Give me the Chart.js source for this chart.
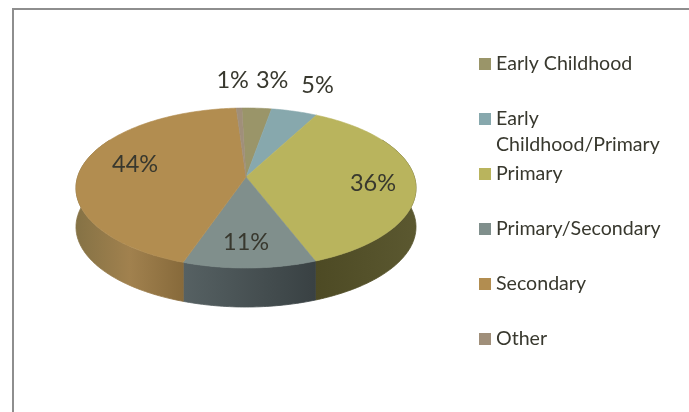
<!DOCTYPE html>
<html>
<head>
<meta charset="utf-8">
<title>Pie chart</title>
<script src="https://cdn.jsdelivr.net/npm/chart.js@4"></script>
<style>
    html, body { margin: 0; background: #fff; overflow: hidden; }
    #wrap { position: relative; width: 689px; height: 412px; }
    #frame { position: absolute; left: 12px; top: 8px; right: 0; bottom: 0;
             border-top: 2px solid #8e8e8e; border-left: 2px solid #8e8e8e; }
    canvas { position: absolute; left: 0; top: 0; filter: blur(0.35px); }
</style>
</head>
<body>
<div id="wrap">
    <div id="frame"></div>
    <canvas id="pie" width="689" height="412"></canvas>
</div>
<script>
// Chart data (labels are these rounded)
const categories = ['Early Childhood', 'Early Childhood/Primary', 'Primary', 'Primary/Secondary', 'Secondary', 'Other'];
const shares = [3.2, 5, 36.4, 11.1, 43.7, 0.6];

// Colours
const topColors = ['#9a9569', '#87a8ad', '#b9b45d', '#808f8c', '#b28d50', '#a08f7a'];
const wallColors = [
    ['#6e6a48', '#6e6a48'],
    ['#5f7a7e', '#5f7a7e'],
    ['#4d4a24', '#5b5830'],
    ['#566163', '#394143'],
    ['#857245', '#a1814e', '#876a3b'],
    ['#75685a', '#75685a']
];
const TEXT_COLOR = '#38382e';
const FONT = 'Lato, "Open Sans", sans-serif';

// Where each percent label sits: fraction of the radius, and nudge off the slice middle (degrees)
const labelRadius = [1.5, 1.485, 0.75, 0.744, 0.695, 1.49];
const labelNudge = [3, 1, 3, 1, 6.5, -1];

// Tilted disc, with perspective
const APEX_X = 246, APEX_Y = 177;
const DISC_A = 168.4, DISC_B = 78.5, DISC_E = 0.1375;
const WALL_DEPTH = 39;

function project(deg, r = 1) {
    const t = deg * Math.PI / 180;
    const q = r * Math.cos(t), p = r * Math.sin(t);
    const w = 1 + DISC_E * q;
    return { x: APEX_X + DISC_A * p / w, y: APEX_Y - DISC_B * q / w };
}

// Chart.js angles start at 3 o'clock, the disc ones at 12 o'clock
const toDeg = rad => rad * 180 / Math.PI + 90;

function rimPoints(from, to) {
    const pts = [];
    const steps = Math.max(2, Math.ceil(Math.abs(to - from)));
    for (let i = 0; i <= steps; i++) pts.push(project(from + (to - from) * i / steps));
    return pts;
}

function drawWall(ctx, from, to, stops) {
    const a = Math.max(from, 60), b = Math.min(to, 300);
    if (b <= a) return;
    const pts = rimPoints(a, b);
    const xs = pts.map(p => p.x);
    const g = ctx.createLinearGradient(Math.min(...xs), 0, Math.max(...xs), 0);
    stops.forEach((c, i) => g.addColorStop(i / (stops.length - 1), c));
    ctx.beginPath();
    pts.forEach((p, i) => i ? ctx.lineTo(p.x, p.y) : ctx.moveTo(p.x, p.y));
    pts.slice().reverse().forEach(p => ctx.lineTo(p.x, p.y + WALL_DEPTH));
    ctx.closePath();
    ctx.fillStyle = g;
    ctx.strokeStyle = g;
    ctx.lineWidth = 0.8; // hides the seam between two walls
    ctx.fill();
    ctx.stroke();
}

function drawTop(ctx, from, to, color) {
    ctx.beginPath();
    ctx.moveTo(APEX_X, APEX_Y);
    rimPoints(from, to).forEach(p => ctx.lineTo(p.x, p.y));
    ctx.closePath();
    ctx.fillStyle = color;
    ctx.strokeStyle = color;
    ctx.lineWidth = 0.6;
    ctx.fill();
    ctx.stroke();
}

function wrapWords(ctx, text, maxWidth) {
    const lines = [];
    let line = '';
    text.split(' ').forEach(word => {
        const next = line ? line + ' ' + word : word;
        if (line && ctx.measureText(next).width > maxWidth) {
            lines.push(line);
            line = word;
        } else {
            line = next;
        }
    });
    lines.push(line);
    return lines;
}

// Draws the arcs of the pie controller as a 3D disc
const discPlugin = {
    id: 'disc',
    beforeDatasetDraw(chart) {
        const ctx = chart.ctx;
        const arcs = chart.getDatasetMeta(0).data;
        const spans = arcs.map(arc => [toDeg(arc.startAngle), toDeg(arc.endAngle)]);

        spans.forEach(([a, b], i) => drawWall(ctx, a, b, wallColors[i]));
        spans.forEach(([a, b], i) => drawTop(ctx, a, b, topColors[i]));

        ctx.save();
        ctx.font = '23.5px ' + FONT;
        ctx.fillStyle = TEXT_COLOR;
        ctx.textAlign = 'center';
        ctx.textBaseline = 'middle';
        spans.forEach(([a, b], i) => {
            const p = project((a + b) / 2 + labelNudge[i], labelRadius[i]);
            ctx.fillText(Math.round(shares[i]) + '%', p.x, p.y);
        });
        ctx.restore();
        return false;
    }
};

// Legend with word wrap, the built-in one can't wrap
const legendPlugin = {
    id: 'sideLegend',
    afterDraw(chart) {
        const ctx = chart.ctx;
        ctx.save();
        ctx.font = '19.6px ' + FONT;
        ctx.textBaseline = 'middle';
        categories.forEach((name, i) => {
            const y = 64 + i * 55;
            ctx.fillStyle = topColors[i];
            ctx.fillRect(479, y - 6, 12, 12);
            ctx.fillStyle = TEXT_COLOR;
            wrapWords(ctx, name, 172).forEach((line, n) => {
                ctx.fillText(line, 496, y + n * 26);
            });
        });
        ctx.restore();
    }
};

new Chart(document.getElementById('pie'), {
    type: 'pie',
    data: {
        labels: categories,
        datasets: [{
            data: shares,
            backgroundColor: topColors,
            borderWidth: 0
        }]
    },
    options: {
        responsive: false,
        animation: false,
        rotation: -1.6,
        plugins: {
            legend: { display: false },
            tooltip: { enabled: false }
        }
    },
    plugins: [discPlugin, legendPlugin]
});
</script>
</body>
</html>
